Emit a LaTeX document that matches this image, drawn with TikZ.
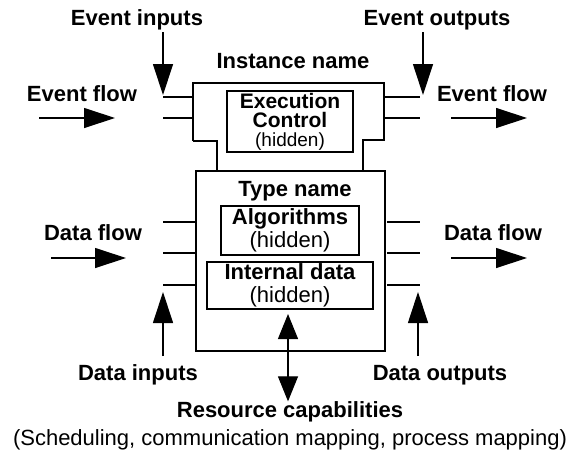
\documentclass[tikz,border=0pt]{standalone}
\usepackage{fontspec}
\setmainfont{Liberation Sans}
\usetikzlibrary{positioning,arrows.meta}

\tikzset{
  lbl/.style={font=\fontsize{11}{12}\selectfont\bfseries, inner sep=0pt},
  hidbox/.style={draw, line width=0.6pt, align=center, inner sep=0pt,
    font=\fontsize{11}{11.5}\selectfont},
  bigarrow/.style={line width=0.6pt, -{Triangle[length=15.5pt,width=10pt]}},
  stub/.style={line width=0.6pt}
}

\begin{document}
\begin{tikzpicture}[x=0.5pt,y=-0.5pt]
  \useasboundingbox (0,0) rectangle (572,450);

  % labels
  \node[lbl] (evin) at (137,20) {Event inputs};
  \node[lbl] (evout) at (437,20) {Event outputs};
  \node[lbl] (inst) at (293,61) {Instance name};
  \node[lbl] (evflowl) at (82,94) {Event flow};
  \node[lbl] (evflowr) at (492,94) {Event flow};
  \node[lbl] (tname) at (295,191) {Type name};
  \node[lbl] (dflowl) at (93,233) {Data flow};
  \node[lbl] (dflowr) at (493,233) {Data flow};
  \node[lbl] (din) at (138,375) {Data inputs};
  \node[lbl] (dout) at (440,375) {Data outputs};
  \node[lbl] (res) at (290,412) {Resource capabilities};
  \node[inner sep=0pt, font=\fontsize{11}{12}\selectfont] (map) at (290,440)
    {(Scheduling, communication mapping, process mapping)};

  % instance and type outlines
  \draw[stub] (193,141) -- (193,83) -- (384,83) -- (384,140) -- (363,140) -- (363,171);
  \draw[stub] (193,141) -- (217,141) -- (217,171);
  \draw[stub] (196,171) rectangle (385,351);

  % hidden parts
  \node[hidbox, minimum width=63pt, minimum height=30.5pt,
    font=\fontsize{10.5}{9.5}\selectfont] (exec) at (290,121.5)
    {\textbf{Execution}\\\textbf{Control}\\{\fontsize{9.5}{9.5}\selectfont(hidden)}};
  \node[hidbox, minimum width=69pt, minimum height=24.5pt] (algo) at (290,230.5)
    {\textbf{Algorithms}\\(hidden)};
  \node[hidbox, minimum width=83pt, minimum height=23.5pt] (idata) at (290,285.5)
    {\textbf{Internal data}\\(hidden)};

  % stubs
  \foreach \y in {97,118} {
    \draw[stub] (163,\y) -- (193,\y);
    \draw[stub] (384,\y) -- (420,\y);
  }
  \foreach \y in {222,253,285} {
    \draw[stub] (163,\y) -- (196,\y);
    \draw[stub] (387,\y) -- (420,\y);
  }

  % arrows
  \coordinate (evintip) at (163,95);
  \coordinate (evouttip) at (423,95);
  \draw[bigarrow] (163,32) -- (evintip);
  \draw[bigarrow] (423,32) -- (evouttip);
  \draw[bigarrow] (39,118) -- (115,118);
  \draw[bigarrow] (451,118) -- (527,118);
  \draw[bigarrow] (51,258) -- (126,258);
  \draw[bigarrow] (451,258) -- (527,258);
  \draw[bigarrow] (163,356) -- (163,292);
  \draw[bigarrow] (418,356) -- (418,292);
  \draw[bigarrow, {Triangle[length=12.5pt,width=10pt]}-{Triangle[length=12.5pt,width=10pt]}]
    (res.north -| 288,0) -- (288,314);
\end{tikzpicture}
\end{document}
